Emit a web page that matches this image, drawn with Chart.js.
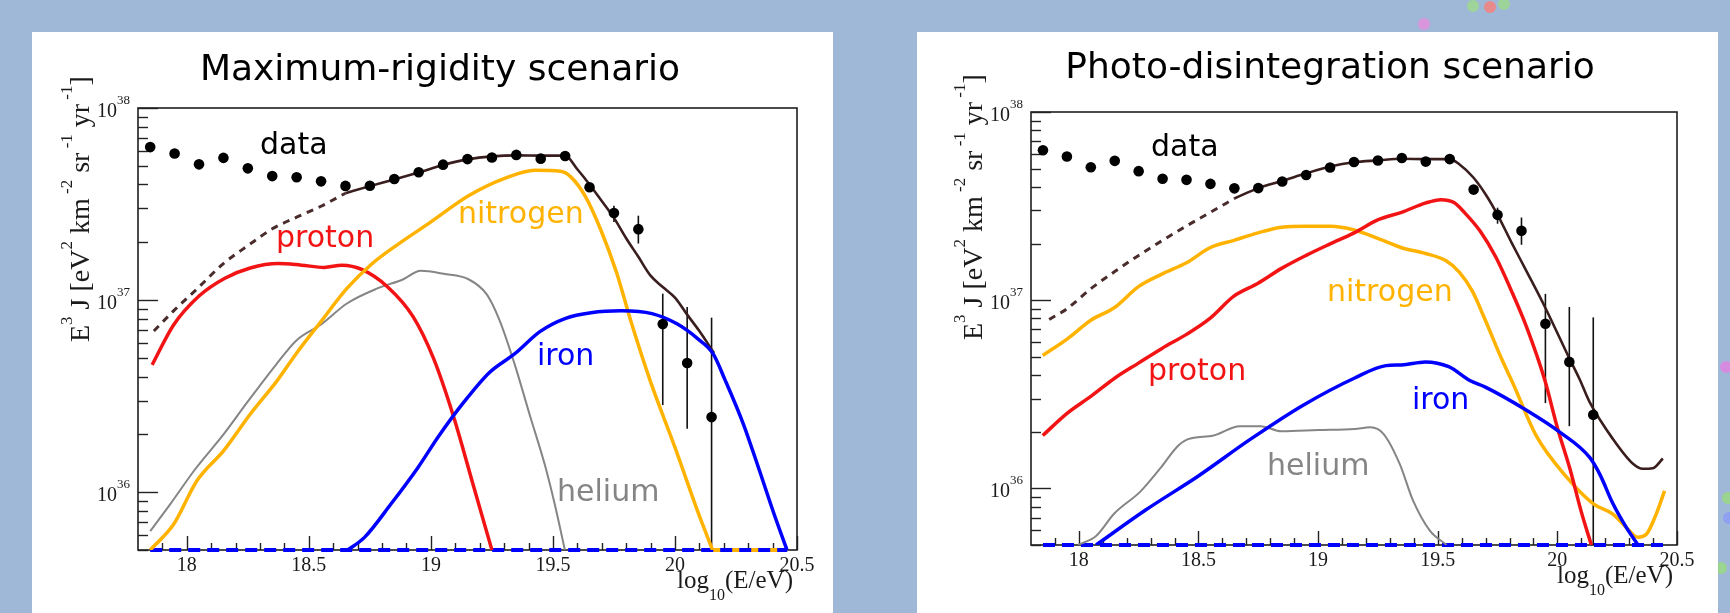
<!DOCTYPE html>
<html><head><meta charset="utf-8">
<script src="https://cdn.jsdelivr.net/npm/chart.js@4.4.0/dist/chart.umd.min.js"></script>
<style>
html,body{margin:0;padding:0;}
body{width:1730px;height:613px;background:#a0b8d8;position:relative;overflow:hidden;}
.panel{position:absolute;background:#fff;top:32px;width:801px;height:581px;}
.panel canvas{display:block;}
.bub{position:absolute;border-radius:50%;width:12px;height:12px;}
</style></head><body>
<div class="bub" style="left:1418px;top:18px;background:#d896dc"></div>
<div class="bub" style="left:1467px;top:0px;background:#9ed49a"></div>
<div class="bub" style="left:1484px;top:1px;background:#e88a8a"></div>
<div class="bub" style="left:1498px;top:-2px;background:#9ed49a"></div>
<div class="bub" style="left:1720px;top:361px;background:#d58be0"></div>
<div class="bub" style="left:1722px;top:492px;background:#9bd48f"></div>
<div class="bub" style="left:1723px;top:512px;background:#8fa0f0"></div>
<div class="bub" style="left:1715px;top:562px;background:#9bd48f"></div>
<div class="panel" style="left:32px"><canvas id="c1" width="801" height="581"></canvas></div>
<div class="panel" style="left:917px"><canvas id="c2" width="801" height="581"></canvas></div>
<script>
// ---------- measured data (shared by both panels) ----------
const dataLogE = [17.85,17.95,18.05,18.15,18.25,18.35,18.45,18.55,18.65,18.75,18.85,18.95,19.05,19.15,19.25,19.35,19.45,19.55,19.65,19.75,19.85,19.95,20.05,20.15];
const dataFlux = [6.26e37,5.8e37,5.09e37,5.5e37,4.85e37,4.42e37,4.36e37,4.15e37,3.93e37,3.94e37,4.27e37,4.63e37,5.07e37,5.42e37,5.52e37,5.7e37,5.45e37,5.62e37,3.87e37,2.84e37,2.34e37,7.5e36,4.7e36,2.46e36];
const dataErrHi = [null,null,null,null,null,null,null,null,null,null,null,null,null,null,null,null,null,null,null,3.1e37,2.75e37,1.08e37,9.2e36,8.1e36];
const dataErrLo = [null,null,null,null,null,null,null,null,null,null,null,null,null,null,null,null,null,null,null,2.55e37,1.97e37,2.84e36,2.14e36,1e35];

// ---------- Maximum-rigidity scenario ----------
const mrTotalDashX = [17.865,17.95,18.05,18.15,18.25,18.35,18.45,18.55,18.65];
const mrTotalDashY = [6.9e36,8.9e36,1.17e37,1.55e37,1.92e37,2.35e37,2.7e37,3.08e37,3.6e37];
const mrTotalX = [18.65,18.75,18.85,18.95,19.05,19.15,19.25,19.35,19.45,19.55,19.6,19.65,19.7,19.75,19.8,19.85,19.9,19.95,20.0,20.05,20.1,20.16];
const mrTotalY = [3.6e37,3.92e37,4.25e37,4.62e37,5.05e37,5.4e37,5.6e37,5.67e37,5.65e37,5.65e37,4.8e37,4.0e37,3.28e37,2.68e37,2.1e37,1.68e37,1.34e37,1.17e37,1.03e37,8.4e36,6.9e36,5.3e36];
const mrProtonX = [17.858,17.945,18.05,18.156,18.26,18.375,18.469,18.563,18.635,18.719,18.823,18.927,19.01,19.094,19.177,19.25];
const mrProtonY = [4.6e36,7.4e36,1.05e37,1.3e37,1.47e37,1.55e37,1.52e37,1.48e37,1.52e37,1.44e37,1.17e37,8.2e36,5.0e36,2.45e36,1.05e36,5e35];
const mrNitrogenX = [17.85,17.946,18.042,18.152,18.261,18.371,18.448,18.552,18.656,18.76,18.865,18.99,19.156,19.302,19.427,19.531,19.573,19.635,19.698,19.76,19.823,19.898,20.0,20.097,20.154];
const mrNitrogenY = [5e35,6.8e35,1.15e36,1.65e36,2.56e36,3.82e36,5.26e36,7.8e36,1.15e37,1.55e37,1.95e37,2.5e37,3.5e37,4.3e37,4.74e37,4.68e37,4.38e37,3.43e37,2.29e37,1.4e37,7.5e36,3.82e36,1.71e36,7.7e35,5e35];
const mrIronX = [18.659,18.727,18.837,18.948,19.031,19.135,19.24,19.344,19.448,19.552,19.656,19.78,19.906,20.01,20.094,20.156,20.206,20.281,20.344,20.406,20.459];
const mrIronY = [5e35,5.8e35,8.7e35,1.35e36,1.95e36,2.94e36,4.2e36,5.26e36,6.87e36,8.04e36,8.6e36,8.8e36,8.5e36,7.5e36,6.28e36,5.26e36,3.82e36,2.25e36,1.32e36,7.7e35,5e35];
const mrHeliumX = [17.85,17.933,18.035,18.152,18.248,18.365,18.448,18.552,18.656,18.781,18.885,18.958,19.052,19.156,19.229,19.281,19.344,19.406,19.466,19.507,19.549];
const mrHeliumY = [6.27e35,8.7e35,1.32e36,2.01e36,2.94e36,4.6e36,6.15e36,7.5e36,9.6e36,1.15e37,1.28e37,1.42e37,1.37e37,1.28e37,1.07e37,7.86e36,4.6e36,2.5e36,1.4e36,8.7e35,5e35];
const mrZeroBlueX = [17.85,20.46];
const mrZeroOrangeX = [20.15,20.46];

// ---------- Photo-disintegration scenario ----------
const pdTotalDashX = [17.876,17.95,18.05,18.15,18.25,18.35,18.45,18.55,18.65];
const pdTotalDashY = [7.9e36,9.0e36,1.15e37,1.42e37,1.73e37,2.08e37,2.48e37,2.93e37,3.47e37];
const pdTotalX = [18.65,18.75,18.85,18.95,19.05,19.15,19.25,19.35,19.45,19.55,19.59,19.648,19.699,19.749,19.808,19.873,19.948,20.048,20.093,20.135,20.232,20.316,20.357,20.399,20.441];
const pdTotalY = [3.47e37,3.94e37,4.3e37,4.72e37,5.13e37,5.41e37,5.53e37,5.64e37,5.62e37,5.62e37,5.28e37,4.5e37,3.67e37,2.86e37,2.03e37,1.41e37,9.2e36,4.97e36,3.8e36,2.87e36,1.83e36,1.35e36,1.27e36,1.28e36,1.44e36];
const pdProtonX = [17.849,17.952,18.05,18.151,18.249,18.349,18.45,18.548,18.648,18.749,18.849,18.95,19.05,19.151,19.249,19.349,19.448,19.513,19.568,19.611,19.677,19.742,19.808,19.873,19.948,20.0,20.051,20.1,20.142];
const pdProtonY = [1.91e36,2.51e36,3.08e36,3.86e36,4.63e36,5.56e36,6.58e36,8.0e36,1.05e37,1.23e37,1.48e37,1.73e37,1.99e37,2.28e37,2.67e37,2.93e37,3.28e37,3.42e37,3.3e37,2.93e37,2.33e37,1.7e37,1.12e37,7.1e36,3.74e36,2.1e36,1.29e36,7.5e35,5e35];
const pdNitrogenX = [17.849,17.952,18.05,18.151,18.249,18.349,18.45,18.548,18.648,18.749,18.849,18.95,19.05,19.151,19.249,19.349,19.448,19.535,19.59,19.644,19.699,19.764,19.815,19.912,20.038,20.149,20.232,20.288,20.337,20.372,20.413,20.448];
const pdNitrogenY = [5.08e36,6.23e36,7.82e36,9.17e36,1.18e37,1.38e37,1.58e37,1.9e37,2.08e37,2.28e37,2.44e37,2.47e37,2.47e37,2.36e37,2.13e37,1.9e37,1.77e37,1.62e37,1.41e37,1.12e37,7.82e36,4.97e36,3.6e36,1.9e36,1.15e36,8.3e35,7.3e35,6.2e35,5.5e35,5.7e35,7.3e35,9.7e35];
const pdIronX = [18.072,18.279,18.498,18.716,18.934,19.153,19.284,19.349,19.448,19.546,19.634,19.699,19.871,20.01,20.135,20.177,20.232,20.288,20.337];
const pdIronY = [5e35,7.67e35,1.16e36,1.82e36,2.75e36,3.86e36,4.49e36,4.53e36,4.7e36,4.43e36,3.74e36,3.45e36,2.6e36,1.99e36,1.46e36,1.19e36,8.3e35,6.2e35,5e35];
const pdHeliumX = [17.996,18.072,18.148,18.258,18.345,18.41,18.454,18.563,18.672,18.76,18.847,19.0,19.153,19.218,19.273,19.341,19.397,19.467,19.537];
const pdHeliumY = [5e35,5.58e35,7.35e35,9.64e35,1.3e36,1.66e36,1.82e36,1.91e36,2.14e36,2.14e36,2.01e36,2.04e36,2.07e36,2.11e36,1.95e36,1.35e36,8.6e35,5.96e35,5e35];
const pdZeroBlueX = [17.85,20.46];

// ---------- axes ----------
const xMin = 17.8, xMax = 20.5;
const yMin = 5e35, yMax = 1e38;
const xTickValues = [18, 18.5, 19, 19.5, 20, 20.5];
const xTickLabels = ['18', '18.5', '19', '19.5', '20', '20.5'];
const yTickValues = [1e36, 1e37, 1e38];
const yTickExponents = ['36', '37', '38'];

const C_RED = '#f21414', C_ORANGE = '#ffb300', C_BLUE = '#0000ff', C_GRAY = '#858585', C_TOTAL = '#3a1e1e';
const SERIF = '"Liberation Serif","DejaVu Serif",serif';
const SANS = '"DejaVu Sans","Noto Sans",sans-serif';

function pts(xs, ys) { return xs.map((x, i) => ({ x: x, y: ys[i] })); }
function flat(xs) { return xs.map(x => ({ x: x, y: yMin })); }
function curve(data, color, width, order, dash, noclip) {
  const d = { type: 'line', data: data, borderColor: color, borderWidth: width, pointRadius: 0,
    fill: false, cubicInterpolationMode: 'monotone', order: order, borderDash: dash || [],
    borderCapStyle: 'butt', borderJoinStyle: 'round' };
  if (noclip) d.clip = false;
  return d;
}

function drawRich(ctx, segs, size) {
  let x = 0;
  segs.forEach(s => {
    if (s.sup) {
      ctx.font = Math.round(size * 0.6) + 'px ' + SERIF;
      ctx.fillText(s.t, x, -size * 0.62);
    } else {
      ctx.font = size + 'px ' + SERIF;
      ctx.fillText(s.t, x, 0);
    }
    x += ctx.measureText(s.t).width;
  });
  return x;
}

function deco(cfg) {
  return {
    id: 'deco',
    beforeDatasetsDraw(chart) {
      const ctx = chart.ctx, a = chart.chartArea, xs = chart.scales.x, ys = chart.scales.y;
      ctx.save();
      // frame
      ctx.strokeStyle = '#1e1e1e'; ctx.lineWidth = 1.6;
      ctx.strokeRect(a.left, a.top, a.right - a.left, a.bottom - a.top);
      // y ticks (inside)
      ctx.lineWidth = 1.4; ctx.strokeStyle = '#222';
      for (let e = 35; e <= 38; e++) {
        for (let m = 1; m <= 9; m++) {
          const v = m * Math.pow(10, e);
          if (v < yMin * 0.999 || v > yMax * 1.001) continue;
          const py = Math.round(ys.getPixelForValue(v)) + 0.5;
          const len = (m === 1) ? 20 : 10;
          ctx.beginPath(); ctx.moveTo(a.left, py); ctx.lineTo(a.left + len, py); ctx.stroke();
        }
      }
      // x ticks (inside)
      for (let k = 179; k <= 205; k++) {
        const v = k / 10;
        const px = Math.round(xs.getPixelForValue(v)) + 0.5;
        const len = (k % 5 === 0) ? 14 : 7;
        ctx.beginPath(); ctx.moveTo(px, a.bottom); ctx.lineTo(px, a.bottom - len); ctx.stroke();
      }
      // error bars
      ctx.strokeStyle = '#111'; ctx.lineWidth = 1.6;
      dataLogE.forEach((e, i) => {
        if (dataErrHi[i] == null) return;
        const px = xs.getPixelForValue(e);
        const y1 = ys.getPixelForValue(dataErrHi[i]);
        const y2 = Math.min(a.bottom, ys.getPixelForValue(dataErrLo[i]));
        ctx.beginPath(); ctx.moveTo(px, y1); ctx.lineTo(px, y2); ctx.stroke();
      });
      ctx.restore();
    },
    afterDraw(chart) {
      const ctx = chart.ctx, a = chart.chartArea, xs = chart.scales.x, ys = chart.scales.y;
      ctx.save();
      ctx.fillStyle = '#1a1a1a';
      // x tick labels
      ctx.font = '20px ' + SERIF; ctx.textAlign = 'center'; ctx.textBaseline = 'top';
      xTickValues.forEach((v, i) => ctx.fillText(xTickLabels[i], xs.getPixelForValue(v), a.bottom + 6));
      // y tick labels 10^n
      ctx.textBaseline = 'alphabetic'; ctx.textAlign = 'left';
      yTickValues.forEach((v, i) => {
        const py = ys.getPixelForValue(v);
        ctx.font = '13px ' + SERIF;
        const wSup = ctx.measureText(yTickExponents[i]).width;
        ctx.font = '20px ' + SERIF;
        const wTen = ctx.measureText('10').width;
        const right = a.left - 8;
        ctx.fillText('10', right - wSup - wTen, py + 9);
        ctx.font = '13px ' + SERIF;
        ctx.fillText(yTickExponents[i], right - wSup, py - 4);
      });
      // x axis title  log_10(E/eV)
      ctx.font = '25px ' + SERIF;
      const wLog = ctx.measureText('log').width, wPar = ctx.measureText('(E/eV)').width;
      ctx.font = '16px ' + SERIF;
      const wSub = ctx.measureText('10').width;
      let x0 = a.right - 4 - wPar - wSub - wLog;
      const yb = a.bottom + 38;
      ctx.font = '25px ' + SERIF; ctx.fillText('log', x0, yb);
      ctx.font = '16px ' + SERIF; ctx.fillText('10', x0 + wLog, yb + 12);
      ctx.font = '25px ' + SERIF; ctx.fillText('(E/eV)', x0 + wLog + wSub, yb);
      // y axis title (rotated)
      ctx.save();
      ctx.translate(a.left - 49, cfg.yTitleStart);
      ctx.rotate(-Math.PI / 2);
      drawRich(ctx, [
        { t: 'E' }, { t: '3', sup: true }, { t: ' J [eV' }, { t: '2', sup: true }, { t: ' km' },
        { t: ' -2', sup: true }, { t: ' sr' }, { t: ' -1', sup: true }, { t: ' yr' }, { t: ' -1', sup: true }, { t: ']' }
      ], 28);
      ctx.restore();
      // chart title
      ctx.font = '36px ' + SANS; ctx.textAlign = 'center'; ctx.fillStyle = '#000';
      ctx.fillText(cfg.title, cfg.titleX, cfg.titleY);
      // curve labels
      ctx.font = '30px ' + SANS; ctx.textAlign = 'left';
      cfg.labels.forEach(l => { ctx.fillStyle = l.c; ctx.fillText(l.t, l.x, l.y); });
      ctx.restore();
    }
  };
}

function makeChart(id, cfg, datasets) {
  return new Chart(document.getElementById(id), {
    type: 'line',
    data: { datasets: datasets },
    options: {
      responsive: false, animation: false, devicePixelRatio: 1, events: [],
      layout: { padding: cfg.padding },
      plugins: { legend: { display: false }, tooltip: { enabled: false }, title: { display: false } },
      scales: {
        x: { type: 'linear', min: xMin, max: xMax, display: false },
        y: { type: 'logarithmic', min: yMin, max: yMax, display: false }
      }
    },
    plugins: [deco(cfg)]
  });
}

const dataPoints = {
  type: 'scatter', data: pts(dataLogE, dataFlux), showLine: false, order: 0,
  pointRadius: 5.3, pointBackgroundColor: '#000', pointBorderColor: '#000', pointBorderWidth: 0
};

makeChart('c1', {
  padding: { left: 106, top: 76, right: 36, bottom: 63 },
  title: 'Maximum-rigidity scenario', titleX: 408, titleY: 48, yTitleStart: 310,
  labels: [
    { t: 'data', c: '#000', x: 228, y: 122 },
    { t: 'proton', c: C_RED, x: 244, y: 215 },
    { t: 'nitrogen', c: C_ORANGE, x: 426, y: 191 },
    { t: 'iron', c: C_BLUE, x: 505, y: 333 },
    { t: 'helium', c: C_GRAY, x: 525, y: 469 }
  ]
}, [
  dataPoints,
  curve(pts(mrIronX, mrIronY), C_BLUE, 3.5, 1),
  curve(pts(mrTotalX, mrTotalY), C_TOTAL, 2.6, 2),
  curve(pts(mrNitrogenX, mrNitrogenY), C_ORANGE, 3.5, 3),
  curve(pts(mrProtonX, mrProtonY), C_RED, 3.5, 4),
  curve(pts(mrHeliumX, mrHeliumY), C_GRAY, 2, 5),
  curve(pts(mrTotalDashX, mrTotalDashY), '#4a2c2c', 3, 6, [7, 6]),
  curve(flat(mrZeroBlueX), C_BLUE, 4, 7, [12, 7], true),
  curve(flat(mrZeroOrangeX), C_ORANGE, 4, 8, null, true)
]);

makeChart('c2', {
  padding: { left: 114, top: 80, right: 41, bottom: 68 },
  title: 'Photo-disintegration scenario', titleX: 413, titleY: 46, yTitleStart: 308,
  labels: [
    { t: 'data', c: '#000', x: 234, y: 124 },
    { t: 'nitrogen', c: C_ORANGE, x: 410, y: 269 },
    { t: 'proton', c: C_RED, x: 231, y: 348 },
    { t: 'iron', c: C_BLUE, x: 495, y: 377 },
    { t: 'helium', c: C_GRAY, x: 350, y: 443 }
  ]
}, [
  dataPoints,
  curve(pts(pdTotalX, pdTotalY), C_TOTAL, 2.6, 1),
  curve(pts(pdIronX, pdIronY), C_BLUE, 3.5, 2),
  curve(pts(pdProtonX, pdProtonY), C_RED, 3.5, 3),
  curve(pts(pdNitrogenX, pdNitrogenY), C_ORANGE, 3.5, 4),
  curve(pts(pdHeliumX, pdHeliumY), C_GRAY, 2, 5),
  curve(pts(pdTotalDashX, pdTotalDashY), '#4a2c2c', 3, 6, [7, 6]),
  curve(flat(pdZeroBlueX), C_BLUE, 4, 7, [12, 7], true)
]);
</script>
</body></html>
